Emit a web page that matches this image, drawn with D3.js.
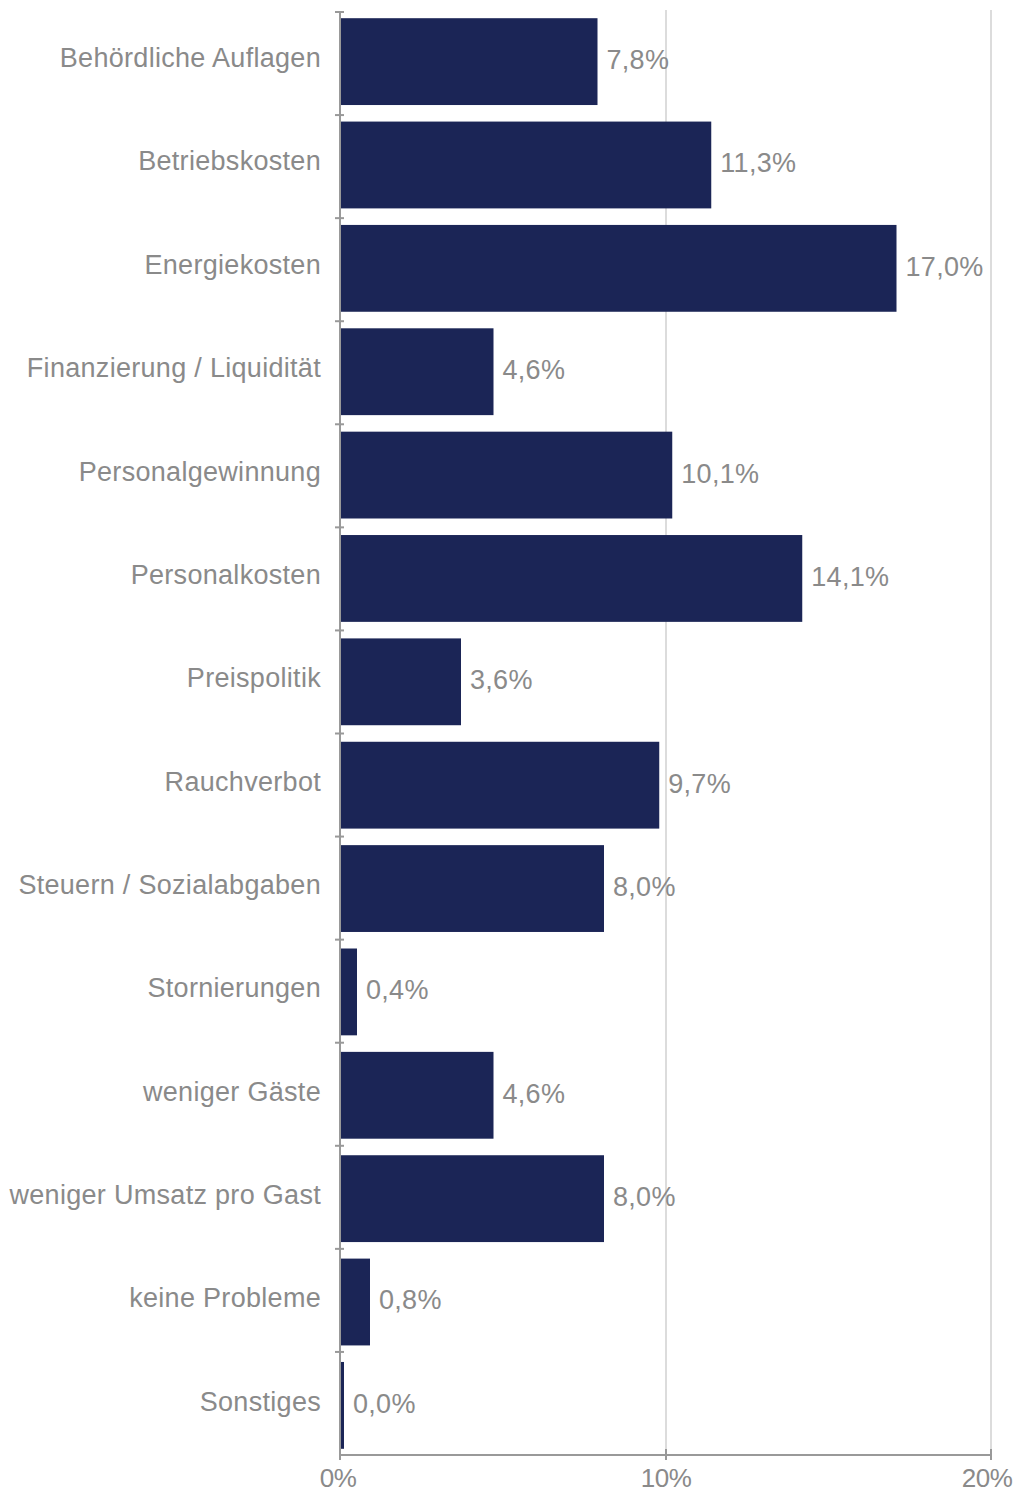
<!DOCTYPE html>
<html>
<head>
<meta charset="utf-8">
<script src="https://cdn.jsdelivr.net/npm/d3@7"></script>
<style>
  body { margin: 0; background: #fff; }
  text { font-family: "Liberation Sans", Arial, sans-serif; fill: #8a8a8a; }
</style>
</head>
<body>
<svg id="chart" width="1014" height="1492"></svg>
<script>
// data
var categories = [
  "Behördliche Auflagen", "Betriebskosten", "Energiekosten", "Finanzierung / Liquidität",
  "Personalgewinnung", "Personalkosten", "Preispolitik", "Rauchverbot",
  "Steuern / Sozialabgaben", "Stornierungen", "weniger Gäste", "weniger Umsatz pro Gast",
  "keine Probleme", "Sonstiges"
];
var values = [7.8, 11.3, 17.0, 4.6, 10.1, 14.1, 3.6, 9.7, 8.0, 0.4, 4.6, 8.0, 0.8, 0.0];
var xTicks = [0, 10, 20];

var svg = d3.select("#chart");
var plotLeft = 340, plotRight = 991, plotTop = 12, plotBottom = 1455;

var x = d3.scaleLinear().domain([0, 20]).range([plotLeft + 1, plotRight]);
var y = d3.scaleBand().domain(categories).range([plotTop, plotBottom]).paddingInner(0.16).paddingOuter(0.06);

var fmt = function(v) { return v.toFixed(1).replace(".", ",") + "%"; };
var barW = function(v) { return Math.max(x(v) - x(0) + 3, 3); };

// gridlines
svg.append("g").selectAll("line").data(xTicks.slice(1)).enter().append("line")
  .attr("x1", function(d) { return x(d); })
  .attr("x2", function(d) { return x(d); })
  .attr("y1", 10).attr("y2", plotBottom)
  .attr("stroke", "#dcdcdc").attr("stroke-width", 2);

// bars
svg.append("g").selectAll("rect").data(values).enter().append("rect")
  .attr("x", plotLeft + 1)
  .attr("y", function(d, i) { return y(categories[i]); })
  .attr("width", barW)
  .attr("height", y.bandwidth())
  .attr("fill", "#1b2556");

// value labels
svg.append("g").selectAll("text").data(values).enter().append("text")
  .attr("x", function(d) { return plotLeft + 1 + barW(d) + 9; })
  .attr("y", function(d, i) { return y(categories[i]) + y.bandwidth() / 2 - 2; })
  .attr("dy", "0.35em")
  .attr("font-size", 27)
  .attr("letter-spacing", 0.3)
  .text(fmt);

// category labels
svg.append("g").selectAll("text").data(categories).enter().append("text")
  .attr("x", plotLeft - 19)
  .attr("y", function(d) { return y(d) + y.bandwidth() / 2 - 4; })
  .attr("dy", "0.35em")
  .attr("text-anchor", "end")
  .attr("font-size", 27)
  .attr("letter-spacing", 0.3)
  .text(function(d) { return d; });

// y axis line with band separators
var step = (plotBottom - plotTop) / categories.length;
svg.append("line")
  .attr("x1", plotLeft).attr("x2", plotLeft).attr("y1", plotTop).attr("y2", plotBottom)
  .attr("stroke", "#999").attr("stroke-width", 2);
svg.append("g").selectAll("line").data(d3.range(categories.length)).enter().append("line")
  .attr("x1", plotLeft - 5).attr("x2", plotLeft + 4)
  .attr("y1", function(i) { return plotTop + i * step; })
  .attr("y2", function(i) { return plotTop + i * step; })
  .attr("stroke", "#999").attr("stroke-width", 2);

// x axis
svg.append("line")
  .attr("x1", plotLeft).attr("x2", plotRight).attr("y1", plotBottom).attr("y2", plotBottom)
  .attr("stroke", "#999").attr("stroke-width", 2);
var xg = svg.append("g").selectAll("g").data(xTicks).enter().append("g");
xg.append("line")
  .attr("x1", function(d) { return d == 0 ? plotLeft : x(d); })
  .attr("x2", function(d) { return d == 0 ? plotLeft : x(d); })
  .attr("y1", plotBottom - 6).attr("y2", plotBottom + 5)
  .attr("stroke", "#999").attr("stroke-width", 2);
xg.append("text")
  .attr("x", function(d) { return d == 0 ? plotLeft - 2 : (d == 20 ? x(d) - 4 : x(d)); })
  .attr("y", plotBottom + 32)
  .attr("text-anchor", "middle")
  .attr("font-size", 26)
  .attr("letter-spacing", -0.5)
  .text(function(d) { return d + "%"; });
</script>
</body>
</html>
